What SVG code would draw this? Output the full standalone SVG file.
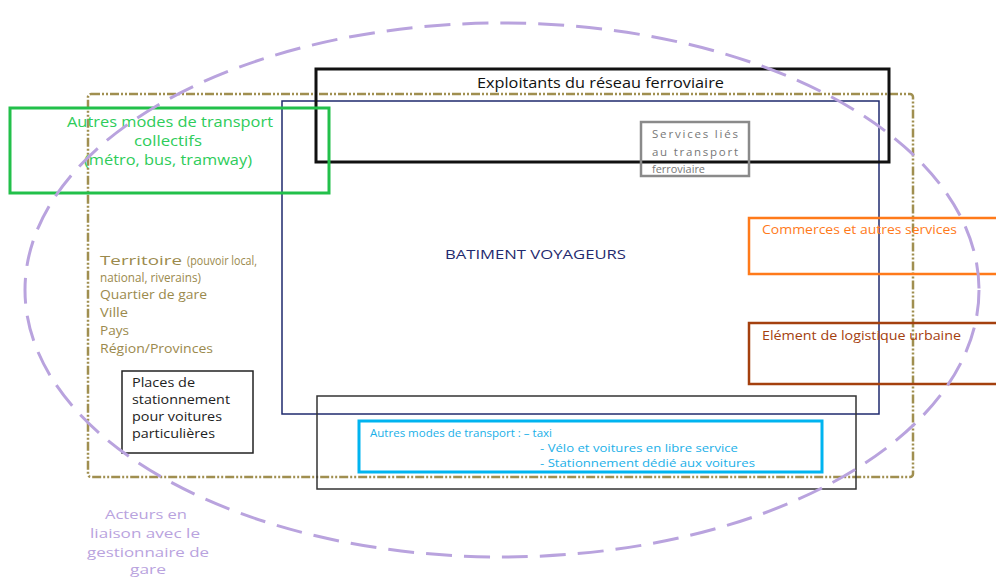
<svg xmlns="http://www.w3.org/2000/svg" width="996" height="579" viewBox="0 0 996 579">
<style>
text{font-family:"Open Sans","Liberation Sans",sans-serif;}
.box{fill:none;}
.green{fill:#2ecc5a;font-size:14.5px;}
.olive{fill:#9b8a4d;font-size:12.5px;}
.lav{fill:#b9a3de;font-size:13px;}
.cyan{fill:#1ab0e8;font-size:11px;}
.blk{fill:#222;font-size:12.5px;}
</style>
<rect width="996" height="579" fill="#ffffff"/>
<g id="territoire">
<rect x="88" y="94" width="825" height="383" rx="3" class="box" stroke="#a08f50" stroke-width="2.5" stroke-dasharray="9,2,2,2,2,2"/>
<text class="olive" x="100" y="265" font-size="15" textLength="82" lengthAdjust="spacingAndGlyphs">Territoire</text>
<text class="olive" x="187" y="265" font-size="9" textLength="70" lengthAdjust="spacingAndGlyphs">(pouvoir local,</text>
<text class="olive" x="100" y="282" font-size="9" textLength="101" lengthAdjust="spacingAndGlyphs">national, riverains)</text>
<text class="olive" x="100" y="299" textLength="107" lengthAdjust="spacingAndGlyphs">Quartier de gare</text>
<text class="olive" x="100" y="317" textLength="28" lengthAdjust="spacingAndGlyphs">Ville</text>
<text class="olive" x="100" y="335" textLength="29" lengthAdjust="spacingAndGlyphs">Pays</text>
<text class="olive" x="100" y="353" textLength="113" lengthAdjust="spacingAndGlyphs">Région/Provinces</text>
</g>
<g id="batiment">
<rect x="282" y="101" width="597" height="313" class="box" stroke="#1f2a6e" stroke-width="1.5"/>
<text x="445" y="259" font-size="13.5" fill="#1f2a6e" textLength="181" lengthAdjust="spacingAndGlyphs">BATIMENT VOYAGEURS</text>
</g>
<g id="exploitants">
<rect x="316" y="69" width="573" height="93" class="box" stroke="#111" stroke-width="3"/>
<text x="477" y="88" font-size="14.5" fill="#111" textLength="247" lengthAdjust="spacingAndGlyphs">Exploitants du réseau ferroviaire</text>
</g>
<g id="services">
<rect x="641" y="122" width="108" height="54" class="box" stroke="#8a8a8a" stroke-width="2.5"/>
<text x="652" y="138" font-size="11.5" fill="#777" textLength="86">Services  liés</text>
<text x="652" y="156" font-size="11.5" fill="#777" textLength="86">au transport</text>
<text x="652" y="173" font-size="11.5" fill="#777" textLength="53" lengthAdjust="spacingAndGlyphs">ferroviaire</text>
</g>
<g id="transports-collectifs">
<rect x="10" y="108" width="319" height="85" class="box" stroke="#22c04a" stroke-width="3"/>
<text class="green" x="67" y="127" textLength="206" lengthAdjust="spacingAndGlyphs">Autres modes de transport</text>
<text class="green" x="134" y="146" textLength="68" lengthAdjust="spacingAndGlyphs">collectifs</text>
<text class="green" x="84" y="165" textLength="168" lengthAdjust="spacingAndGlyphs">(métro, bus, tramway)</text>
</g>
<g id="commerces">
<rect x="749" y="218" width="252" height="56" class="box" stroke="#ff7a1a" stroke-width="2.5"/>
<text x="762" y="234" font-size="12" fill="#ff7a1a" textLength="195" lengthAdjust="spacingAndGlyphs">Commerces et autres services</text>
</g>
<g id="logistique">
<rect x="749" y="323" width="252" height="61" class="box" stroke="#a4400e" stroke-width="2.5"/>
<text x="762" y="340" font-size="12" fill="#a4400e" textLength="199" lengthAdjust="spacingAndGlyphs">Elément de logistique urbaine</text>
</g>
<g id="stationnement">
<rect x="122" y="371" width="131" height="82" class="box" stroke="#222" stroke-width="1.5"/>
<text class="blk" x="132" y="387" textLength="63" lengthAdjust="spacingAndGlyphs">Places de</text>
<text class="blk" x="132" y="404" textLength="98" lengthAdjust="spacingAndGlyphs">stationnement</text>
<text class="blk" x="132" y="421" textLength="90" lengthAdjust="spacingAndGlyphs">pour voitures</text>
<text class="blk" x="132" y="438" textLength="83" lengthAdjust="spacingAndGlyphs">particulières</text>
</g>
<g id="acces">
<rect x="317" y="396" width="539" height="93" class="box" stroke="#333" stroke-width="1.5"/>
</g>
<g id="autres-modes">
<rect x="359" y="421" width="463" height="51" class="box" stroke="#00b4f0" stroke-width="3"/>
<text class="cyan" x="370" y="437" textLength="182" lengthAdjust="spacingAndGlyphs">Autres modes de transport : – taxi</text>
<text class="cyan" x="540" y="452" textLength="198" lengthAdjust="spacingAndGlyphs">- Vélo et voitures en libre service</text>
<text class="cyan" x="540" y="467" textLength="215" lengthAdjust="spacingAndGlyphs">- Stationnement dédié aux voitures</text>
</g>
<g id="acteurs">
<ellipse cx="502" cy="290" rx="477" ry="267" fill="none" stroke="#b9a3de" stroke-width="3" stroke-dasharray="26,12"/>
<text class="lav" x="105" y="519" textLength="82" lengthAdjust="spacingAndGlyphs">Acteurs en</text>
<text class="lav" x="90" y="538" textLength="110" lengthAdjust="spacingAndGlyphs">liaison avec le</text>
<text class="lav" x="87" y="557" textLength="122" lengthAdjust="spacingAndGlyphs">gestionnaire de</text>
<text class="lav" x="130" y="574" textLength="36" lengthAdjust="spacingAndGlyphs">gare</text>
</g>
</svg>
